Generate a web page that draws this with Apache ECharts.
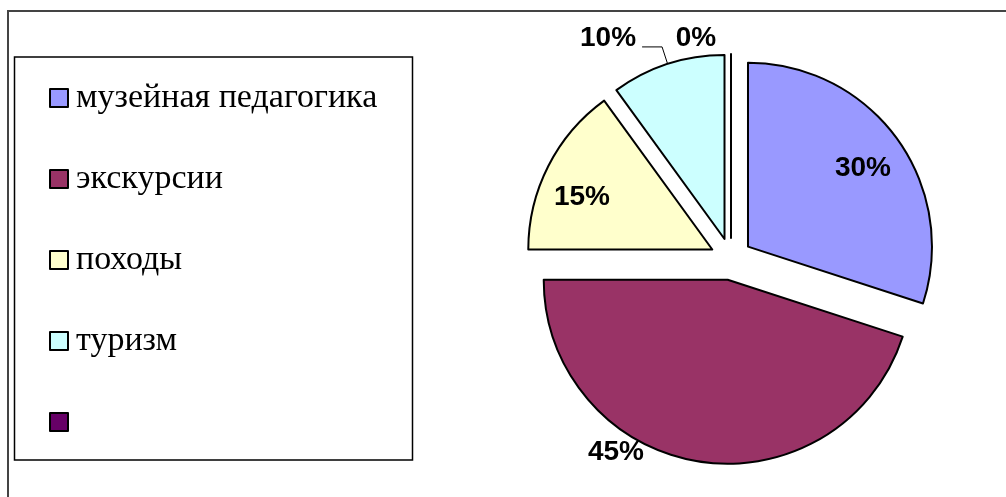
<!DOCTYPE html>
<html>
<head>
<meta charset="utf-8">
<script src="https://cdn.jsdelivr.net/npm/echarts@6/dist/echarts.min.js"></script>
<style>
  html, body { margin: 0; padding: 0; background: #fff; }
  #chart { width: 1006px; height: 497px; }
</style>
</head>
<body>
<div id="chart"></div>
<script>
var categories = ['музейная педагогика', 'экскурсии', 'походы', 'туризм', ' '];
var values = [30, 45, 15, 10, 0];
var colors = ['#9999FF', '#993366', '#FFFFCC', '#CCFFFF', '#660066'];

// where the percent labels sit (index -> [x, y]); the cyan one keeps its leader line
var labelPos = { 0: [863, 168], 1: [616, 452], 2: [582, 197], 4: [696, 38] };
var explode = 21;

var chart = echarts.init(document.getElementById('chart'));

// the label rect handed to labelLayout does not include the slice's select offset
var total = values.reduce(function (a, b) { return a + b; }, 0);
var sliceShift = [];
var acc = 0;
values.forEach(function (v) {
	var a = (acc + v / 2) / total * Math.PI * 2;
	sliceShift.push([Math.sin(a) * explode, -Math.cos(a) * explode]);
	acc += v;
});

var pieData = categories.map(function (name, i) {
	var item = {
		name: name,
		value: values[i],
		selected: true,
		itemStyle: { color: colors[i] }
	};
	if (i !== 3) {
		item.label = { position: 'inside' };
		item.labelLine = { show: false };
	}
	return item;
});

var option = {
	backgroundColor: '#fff',
	animation: false,
	graphic: [{
		type: 'rect',
		shape: { x: 8, y: 11, width: 1200, height: 600 },
		style: { fill: 'none', stroke: '#444', lineWidth: 2 },
		silent: true
	}, {
		type: 'rect',
		shape: { x: 14.5, y: 57, width: 398, height: 403 },
		style: { fill: 'none', stroke: '#000', lineWidth: 1.5 },
		silent: true
	}],
	legend: {
		orient: 'vertical',
		left: 44,
		top: 73,
		itemWidth: 18,
		itemHeight: 18,
		itemGap: 41,
		icon: 'rect',
		selectedMode: false,
		itemStyle: { borderColor: '#000', borderWidth: 2 },
		textStyle: {
			fontFamily: 'Liberation Serif',
			fontSize: 34,
			lineHeight: 40,
			color: '#000',
			padding: [0, 0, 0, 3]
		},
		data: categories
	},
	series: [{
		type: 'pie',
		center: [731, 259],
		radius: 184,
		startAngle: 90,
		clockwise: true,
		selectedMode: 'multiple',
		selectedOffset: explode,
		avoidLabelOverlap: false,
		silent: true,
		emphasis: { disabled: true },
		itemStyle: { borderColor: '#000', borderWidth: 2 },
		select: { itemStyle: { borderColor: '#000', borderWidth: 2 } },
		label: {
			show: true,
			position: 'outside',
			formatter: '{d}%',
			color: '#000',
			fontFamily: 'Liberation Sans',
			fontWeight: 'bold',
			fontSize: 28,
			distanceToLabelLine: 6
		},
		labelLine: {
			show: true,
			length: 18,
			length2: 20,
			lineStyle: { color: '#000', width: 1 }
		},
		labelLayout: function (p) {
			var q = labelPos[p.dataIndex];
			if (!q) return { dy: -9 };
			var r = p.labelRect;
			var s = sliceShift[p.dataIndex];
			return {
				dx: q[0] - s[0] - (r.x + r.width / 2),
				dy: q[1] - s[1] - (r.y + r.height / 2)
			};
		},
		data: pieData
	}]
};

chart.setOption(option);
</script>
</body>
</html>
